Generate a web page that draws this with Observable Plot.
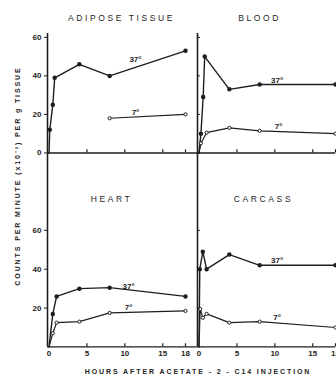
<!DOCTYPE html>
<html><head><meta charset="utf-8">
<script src="https://cdn.jsdelivr.net/npm/d3@7"></script>
<script src="https://cdn.jsdelivr.net/npm/@observablehq/plot@0.6"></script>
<style>
body{margin:0;background:#fff;}
#wrap{position:relative;width:336px;height:376px;overflow:hidden;background:#fff;font-family:"Liberation Sans",Arial,sans-serif;color:#222;}
#wrap svg{position:absolute;overflow:visible;background:transparent;}
#wrap svg .ttl text{letter-spacing:2.6px;}
.lab{position:absolute;white-space:nowrap;font-size:7px;letter-spacing:1.9px;color:#222;font-weight:bold;line-height:8px;}
</style></head><body><div id="wrap"></div>
<script>
// ---- data (hours after injection, counts per minute x10^-2 per g tissue) ----
const panelTitles = ["ADIPOSE TISSUE", "BLOOD", "HEART", "CARCASS"];
const adipose37 = [[0,0],[0.1,12],[0.5,25],[0.75,39],[4,46],[8,40],[18,53]];
const adipose7  = [[8,18],[18,20]];
const blood37   = [[0,0],[0.25,10],[0.55,29],[0.75,50],[4,33],[8,35.5],[18,35.5]];
const blood7    = [[0,0],[0.25,5],[1,10.5],[4,13],[8,11.5],[18,10]];
const heart37   = [[0,0],[0.5,17],[1,26],[4,30],[8,30.5],[18,26]];
const heart7    = [[0,0],[0.5,7],[1,12.5],[4,13],[8,17.5],[18,18.5]];
const carcass37 = [[0,0],[0.1,40],[0.5,49],[1,40],[4,47.5],[8,42],[18,42]];
const carcass7  = [[0,0],[0.15,19.5],[0.5,15],[1,17],[4,12.5],[8,13],[18,10]];
const seriesLabels = ["37°", "7°"];
// label anchor points [hour, value] per panel: [37° label, 7° label]
const labelAt = [
  [[11.4,48.5],[11.4,21]],
  [[10.3,37.5],[10.5,14]],
  [[10.5,31],[10.5,20.5]],
  [[10.3,44.5],[10.3,15]]
];
const xTickValues = [0,5,10,15,18];
const yTickTop = [0,20,40,60];
const yTickBottom = [20,40,60];
const yLabel = "COUNTS PER MINUTE (x10⁻²) PER g TISSUE";
const xLabel = "HOURS AFTER ACETATE - 2 - C14 INJECTION";

const data = [
  [adipose37, adipose7], [blood37, blood7], [heart37, heart7], [carcass37, carcass7]
];

const FONT = '"Liberation Sans", Arial, sans-serif';
const ink = "#1e1e1e";

function panel(i, g) {
  const [s37, s7] = data[i];
  const toObj = a => a.map(([h, v]) => ({h, v}));
  const d37 = toObj(s37), d7 = toObj(s7);
  const marks = [
    Plot.ruleX([-0.2], {y1: g.yAxisFrom, y2: g.yDomain[1], stroke: ink, strokeWidth: 1.6}),
    Plot.ruleY([0], {x1: -0.2, x2: 18 + g.ext, stroke: ink, strokeWidth: 1.4}),
    Plot.ruleX([5,10,15,18], {y1: 0, y2: 1.6, stroke: ink, strokeWidth: 1.2}),
    Plot.line(d37, {x: "h", y: "v", stroke: ink, strokeWidth: 1.4}),
    Plot.line(d7, {x: "h", y: "v", stroke: ink, strokeWidth: 1.2}),
    Plot.dot(d37.filter(d => d.h > 0), {x: "h", y: "v", r: 1.5, fill: ink, stroke: ink}),
    Plot.dot(d7.filter(d => d.h > 0), {x: "h", y: "v", r: 1.6, fill: "white", stroke: ink, strokeWidth: 1}),
    Plot.text(seriesLabels.map((t, k) => ({t, h: labelAt[i][k][0], v: labelAt[i][k][1]})),
      {x: "h", y: "v", text: "t", fontSize: 8, fontWeight: "bold", fill: ink, fontFamily: FONT}),
    Plot.text([panelTitles[i]], {frameAnchor: "top", text: d => d, dx: g.tdx, dy: g.tdy,
      fontSize: 8.5, fill: ink, fontFamily: FONT, fontWeight: "normal", className: "ttl"})
  ];
  if (!g.showYLabels) {
    marks.push(Plot.ruleY(g.yTicks, {x1: -0.2, x2: 0.2, stroke: ink, strokeWidth: 1}));
  }
  const svg = Plot.plot({
    width: g.width, height: g.height,
    marginLeft: g.mL, marginRight: g.mR, marginTop: g.mT, marginBottom: g.mB,
    style: {background: "transparent", overflow: "visible", fontFamily: FONT, fontSize: "8px", fontWeight: "bold", color: ink},
    x: {domain: [-0.2, 18], axis: g.showX ? "bottom" : null, ticks: xTickValues, tickSize: 0, tickPadding: 3, label: null,
        tickFormat: d => d},
    y: {domain: g.yDomain, axis: g.showYLabels ? "left" : null, ticks: g.yTicks, tickSize: 3, tickPadding: 3, label: null},
    marks
  });
  svg.style.left = g.left + "px";
  svg.style.top = g.top + "px";
  return svg;
}

const wrap = document.getElementById("wrap");
const topRow = {top: 0, height: 190, mT: 33, mB: 0, yDomain: [-19.5, 62], yAxisFrom: -19.5};
const botRow = {top: 190, height: 186, mT: 0, mB: 29, yDomain: [-0.3, 80.5], yAxisFrom: 0};
const leftCol = {left: 0, width: 197, mL: 47, mR: 12, ext: 12/7.58, showYLabels: true};
const rightCol = {left: 197, width: 139, mL: 0, mR: 1, ext: 0, showYLabels: false};

wrap.appendChild(panel(0, {...topRow, ...leftCol, yTicks: yTickTop, showX: false, tdx: 5, tdy: -19}));
wrap.appendChild(panel(1, {...topRow, ...rightCol, yTicks: yTickTop, showX: false, tdx: -7, tdy: -19}));
wrap.appendChild(panel(2, {...botRow, ...leftCol, yTicks: yTickBottom, showX: true, tdx: -5, tdy: 5}));
wrap.appendChild(panel(3, {...botRow, ...rightCol, yTicks: yTickBottom, showX: true, tdx: -3, tdy: 5}));

const xl = document.createElement("div");
xl.className = "lab";
xl.textContent = xLabel;
xl.style.left = "198px"; xl.style.top = "368px";
xl.style.transform = "translateX(-50%)";
wrap.appendChild(xl);

const yl = document.createElement("div");
yl.className = "lab";
yl.textContent = yLabel;
yl.style.left = "18px"; yl.style.top = "176px";
yl.style.transform = "translate(-50%,-50%) rotate(-90deg)";
wrap.appendChild(yl);
</script>
</body></html>
